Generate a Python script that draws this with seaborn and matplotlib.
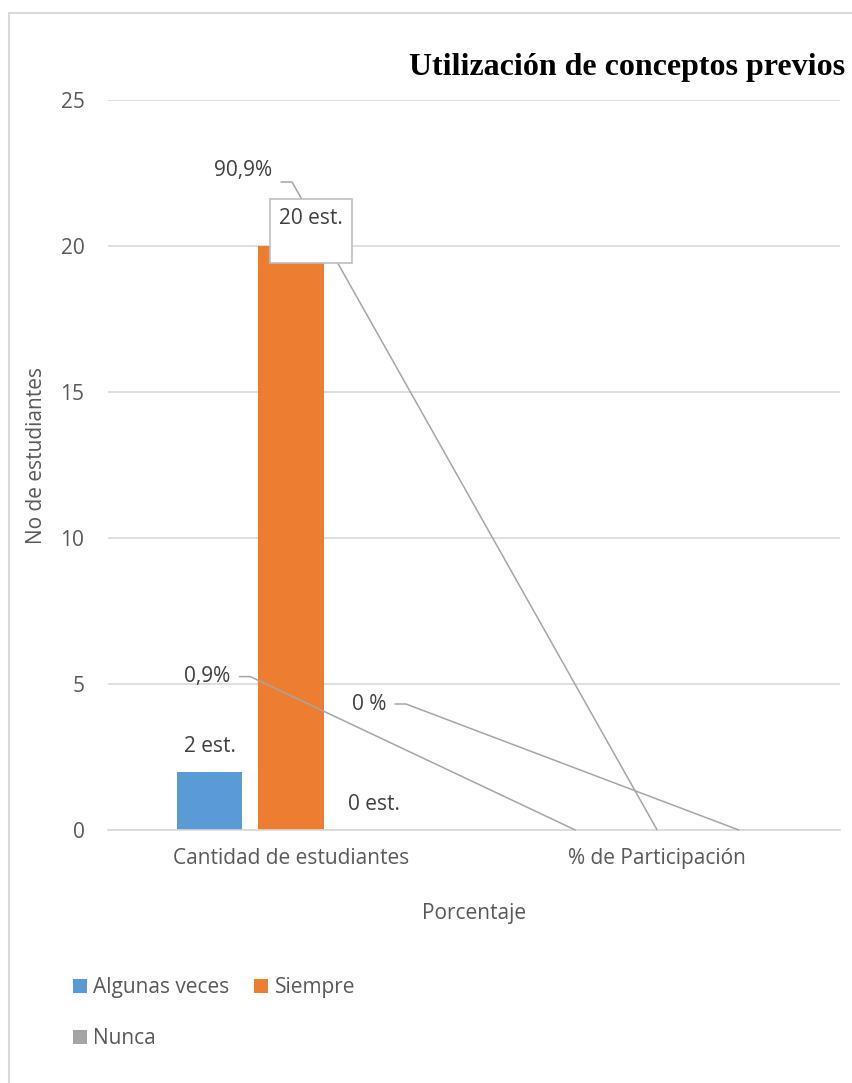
import matplotlib
matplotlib.use("Agg")
import matplotlib.pyplot as plt
import matplotlib.lines as mlines
import numpy as np
import pandas as pd
import seaborn as sns

# --- data -------------------------------------------------------------
categorias = ["Cantidad de estudiantes", "% de Participación"]
series = ["Algunas veces", "Siempre", "Nunca"]
# the % values sit on the same axis, so they are practically flat at 0
algunas_veces = [2, 0.0009]
siempre = [20, 0.0091]
nunca = [0, 0]
etiquetas_cantidad = ["2 est.", "20 est.", "0 est."]
etiquetas_porcentaje = ["0,9%", "90,9%", "0 %"]
colores = ["#5B9BD5", "#ED7D31", "#A5A5A5"]

TITLE = "Utilización de conceptos previos"

W, H, DPI = 853, 1083, 100
FONT = "Open Sans"
FS = 15
TXT = "#595959"
LBL = "#404040"
GRID = "#d9d9d9"
LEADER = "#a6a6a6"


def px_to_fig(x, y):
    return x / W, 1 - y / H


def build_frame():
    valores = [algunas_veces, siempre, nunca]
    rows = []
    for serie, vals in zip(series, valores):
        for cat, v in zip(categorias, vals):
            rows.append({"categoria": cat, "serie": serie, "valor": v})
    return pd.DataFrame(rows)


def main():
    sns.set_theme(style="white")
    plt.rcParams["font.family"] = [FONT, "DejaVu Sans"]

    fig = plt.figure(figsize=(W / DPI, H / DPI), dpi=DPI)
    ax = fig.add_axes([108 / W, (H - 830) / H, 732 / W, 730 / H])

    df = build_frame()
    sns.barplot(data=df, x="categoria", y="valor", hue="serie",
                order=categorias, hue_order=series, palette=colores,
                saturation=1, width=0.67, gap=0.2, linewidth=0,
                ax=ax, zorder=2)

    ax.set_xlim(-0.5, 1.5)
    ax.set_ylim(0, 25)
    ax.set_yticks(np.arange(0, 26, 5))
    ax.yaxis.grid(True, color=GRID, lw=1.2, zorder=0)
    ax.set_axisbelow(True)
    for s in ["top", "right", "left"]:
        ax.spines[s].set_visible(False)
    ax.spines["bottom"].set_color(GRID)
    ax.spines["bottom"].set_linewidth(1.2)
    ax.tick_params(axis="x", length=0, pad=13, labelsize=FS, labelcolor=TXT)
    ax.tick_params(axis="y", length=0, pad=17, labelsize=FS, labelcolor=TXT)

    ax.set_xlabel("Porcentaje", fontsize=FS, color=TXT)
    ax.xaxis.label.set_va("center")
    ax.xaxis.set_label_coords(0.5, (830 - 914) / 730)
    ax.set_ylabel("No de estudiantes", fontsize=FS, color=TXT)
    ax.yaxis.label.set_va("center")
    ax.yaxis.set_label_coords((37 - 108) / 732, (830 - 456) / 730)

    # legend: row 1 = Algunas veces, Siempre ; row 2 = Nunca
    handles, labels = ax.get_legend_handles_labels()
    ax.get_legend().remove()
    order = [0, 2, 1]
    fig.legend([handles[i] for i in order], [labels[i] for i in order],
               ncol=2, loc="upper left",
               bbox_to_anchor=px_to_fig(73, 977),
               frameon=False, fontsize=FS, labelcolor=TXT,
               handlelength=0.67, handleheight=0.67, handletextpad=0.3,
               columnspacing=1.2, labelspacing=1.45,
               borderpad=0, borderaxespad=0)

    # data labels on the "Cantidad" bars
    for i, cont in enumerate(ax.containers):
        bar = cont[0]
        cx = bar.get_x() + bar.get_width() / 2
        top = bar.get_height()
        if etiquetas_cantidad[i] == "20 est.":
            ax.annotate(etiquetas_cantidad[i] + "\n ", xy=(cx, top),
                        xytext=(-12, 38), textcoords="offset pixels",
                        ha="left", va="top", fontsize=FS, color=LBL,
                        zorder=5,
                        bbox=dict(boxstyle="square,pad=0.45", fc="white",
                                  ec="#bfbfbf", lw=1.2))
        else:
            ax.annotate(etiquetas_cantidad[i], xy=(cx, top),
                        xytext=(1, 25), textcoords="offset pixels",
                        ha="center", va="center", fontsize=FS, color=LBL)

    # percentage labels with leader lines to the flat % bars
    offsets = {"0,9%": (-2, 95, 0), "90,9%": (-48, 76, -12), "0 %": (-4, 126, 0)}
    fig.canvas.draw()
    inv = ax.transData.inverted()
    for i, cont in enumerate(ax.containers):
        src = cont[0]
        dst = cont[1]
        lab = etiquetas_porcentaje[i]
        dx, dy, attach = offsets[lab]
        sx, sy = ax.transData.transform((src.get_x() + src.get_width() / 2,
                                         src.get_height()))
        txt = ax.text(*inv.transform((sx + dx, sy + dy)), lab,
                      ha="center", va="center", fontsize=FS, color=LBL)
        bb = txt.get_window_extent(fig.canvas.get_renderer())
        ly = sy + dy + attach
        tx, ty = ax.transData.transform((dst.get_x() + dst.get_width() / 2,
                                         dst.get_height()))
        pts = inv.transform([(bb.x1 + 9, ly), (bb.x1 + 20, ly), (tx, ty)])
        ax.plot(pts[:, 0], pts[:, 1], color=LEADER, lw=1.1, zorder=3,
                clip_on=False)

    fig.text(*px_to_fig(845, 67), TITLE, ha="right", va="center",
             fontsize=23, fontweight="bold", color="black",
             family="Liberation Serif")

    # chart-area border (left and top edges visible)
    fig.add_artist(mlines.Line2D([8.5 / W, 8.5 / W], [0, 1 - 12.5 / H],
                                 transform=fig.transFigure, color=GRID, lw=1.5))
    fig.add_artist(mlines.Line2D([8.5 / W, 1], [1 - 12.5 / H, 1 - 12.5 / H],
                                 transform=fig.transFigure, color=GRID, lw=1.5))

    fig.savefig("out.png", dpi=DPI, facecolor="white")
    plt.close(fig)


if __name__ == "__main__":
    main()
